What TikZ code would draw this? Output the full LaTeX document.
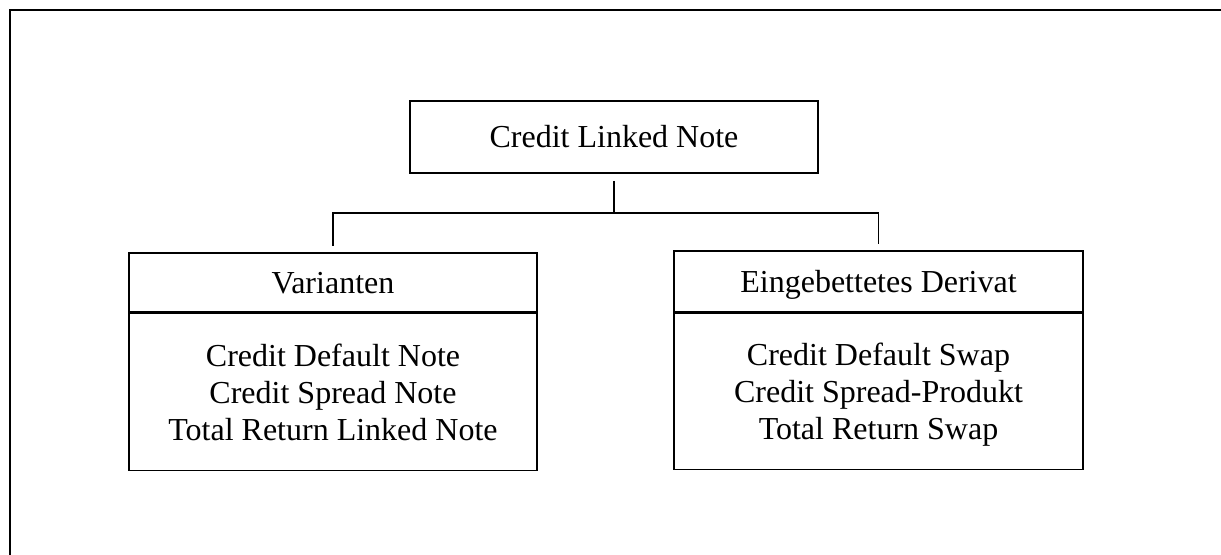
\documentclass[tikz,border=0pt]{standalone}
\usepackage{fontspec}
\setmainfont{Liberation Serif}
\usetikzlibrary{positioning}
\newcommand{\boxstrut}{\rule[-4pt]{0pt}{19pt}}

\begin{document}
\begin{tikzpicture}[x=0.5pt,y=-0.5pt,thick,node distance=0pt]
    \tikzstyle{box}=[rectangle,draw,line width=0.8pt,minimum width=204pt,inner sep=0pt,
        font=\fontsize{16pt}{18.5pt}\selectfont]
    \tikzstyle{head}=[box,text height=15pt,text depth=4pt]
    \tikzstyle{link}=[line width=0.6pt]

    \useasboundingbox (0,0) rectangle (1221,555);
    \clip (0,0) rectangle (1221,555);
    \draw[line width=1.15pt] (10,600) -- (10,10) -- (1300,10);

    \node[head,minimum height=36pt] (cln) at (614,137) {Credit Linked Note};

    \node[head,minimum height=29.5pt] (varHead) at (333,282.5) {Varianten};
    \node[box,minimum height=78.5pt,align=center,below=of varHead] (varBody)
        {\boxstrut Credit Default Note\\Credit Spread Note\\Total Return Linked Note\boxstrut};

    \node[head,minimum width=204.5pt,minimum height=30.5pt] (derHead) at (878.5,281.5) {Eingebettetes Derivat};
    \node[box,minimum width=204.5pt,minimum height=78pt,align=center,below=of derHead] (derBody)
        {\boxstrut Credit Default Swap\\Credit Spread-Produkt\\Total Return Swap\boxstrut};

    \coordinate (fork) at (614,213);
    \draw[link,shorten <=3.5pt] (cln) -- (fork);
    \draw[link,shorten >=3pt] (fork) -| (varHead);
    \draw[link,shorten >=3pt] (fork) -| (derHead);
\end{tikzpicture}
\end{document}
